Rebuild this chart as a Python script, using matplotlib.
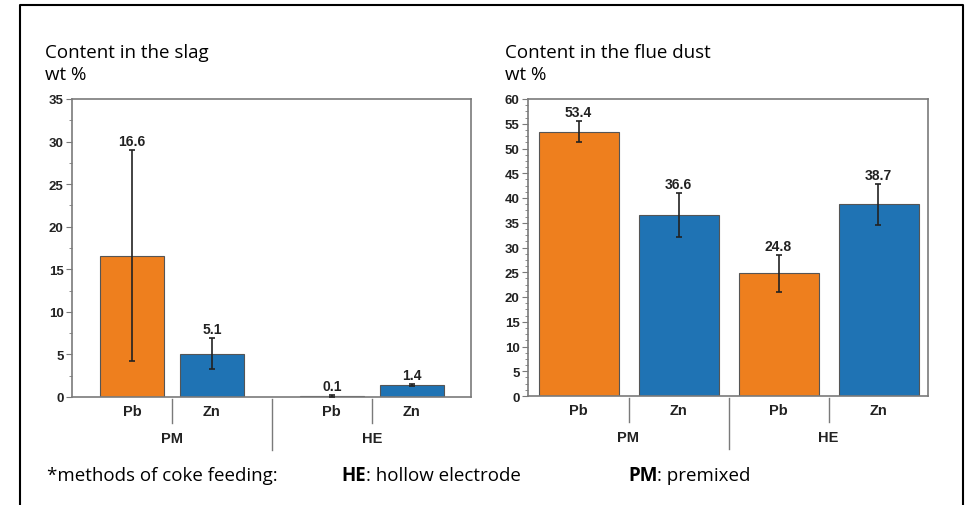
import matplotlib.pyplot as plt
from matplotlib.lines import Line2D
from matplotlib.ticker import MultipleLocator

plt.rcParams['font.family'] = ['Liberation Sans', 'DejaVu Sans']

elements = ['Pb', 'Zn', 'Pb', 'Zn']
methods = ['PM', 'HE']

slag_values = [16.6, 5.1, 0.1, 1.4]
slag_errors = [12.4, 1.8, 0.1, 0.1]

dust_values = [53.4, 36.6, 24.8, 38.7]
dust_errors = [2.1, 4.4, 3.7, 4.2]

orange = '#EE7F1E'
blue = '#1F73B4'
bar_colors = [orange, blue, orange, blue]
axis_grey = '#7a7a7a'

fig = plt.figure(figsize=(9.69, 5.06), dpi=100)


def draw_panel(ax, xpos, values, errors, ymax, major, minor, pairs, group_sep, group_pos):
    ax.bar(xpos, values, width=0.8, color=bar_colors, edgecolor='#555555', linewidth=0.8, zorder=2)
    ax.errorbar(xpos, values, yerr=errors, fmt='none', ecolor='#222222', elinewidth=1.2,
                capsize=2.5, capthick=1.2, zorder=3)
    for x, v, e in zip(xpos, values, errors):
        ax.annotate(f'{v:.1f}', xy=(x, v + e), xytext=(0, 1.5), textcoords='offset points',
                    ha='center', va='bottom', fontsize=10, fontweight='bold', color='#222222')

    ax.set_ylim(0, ymax)
    ax.yaxis.set_major_locator(MultipleLocator(major))
    ax.yaxis.set_minor_locator(MultipleLocator(minor))
    ax.tick_params(axis='y', which='major', direction='out', length=4, width=0.8,
                   color=axis_grey, labelsize=9.5, pad=2)
    ax.tick_params(axis='y', which='minor', direction='out', length=2, width=0.6, color=axis_grey)
    for lab in ax.get_yticklabels():
        lab.set_fontweight('bold')
        lab.set_color('#222222')
    ax.set_xticks([])
    for s in ax.spines.values():
        s.set_color(axis_grey)
        s.set_linewidth(1.2)

    # category labels and separators below the axis
    for x, name in zip(xpos, elements):
        ax.text(x, -0.047, name, transform=ax.get_xaxis_transform(), ha='center', va='center',
                fontsize=10.5, fontweight='bold', color='#222222')
    for x in pairs:
        ax.axvline(x, ymin=-0.088, ymax=-0.006, color=axis_grey, lw=1.0, clip_on=False)
    ax.axvline(group_sep, ymin=-0.178, ymax=-0.006, color=axis_grey, lw=1.0, clip_on=False)
    for x, name in zip(group_pos, methods):
        ax.text(x, -0.138, name, transform=ax.get_xaxis_transform(), ha='center', va='center',
                fontsize=10.5, fontweight='bold', color='#222222')


# left panel: slag
ax1 = fig.add_axes([72 / 969, 1 - 398 / 506, 399 / 969, 298 / 506])
x1 = [0, 1, 2.5, 3.5]
draw_panel(ax1, x1, slag_values, slag_errors, 35, 5, 2.5, [0.5, 3.0], 1.75, [0.5, 3.0])
ax1.set_xlim(-0.75, 4.24)

# right panel: flue dust
ax2 = fig.add_axes([528 / 969, 1 - 397 / 506, 400 / 969, 297 / 506])
x2 = [0, 1, 2, 3]
draw_panel(ax2, x2, dust_values, dust_errors, 60, 5, 1.25, [0.5, 2.5], 1.5, [0.5, 2.5])
ax2.set_xlim(-0.505, 3.495)

title_font = ['Open Sans', 'DejaVu Sans']
fs = 13.5
fig.text(45 / 969, 1 - 53 / 506, 'Content in the slag', family=title_font, fontsize=fs, va='center')
fig.text(45 / 969, 1 - 75 / 506, 'wt %', family=title_font, fontsize=fs, va='center')
fig.text(505 / 969, 1 - 53 / 506, 'Content in the flue dust', family=title_font, fontsize=fs, va='center')
fig.text(505 / 969, 1 - 75 / 506, 'wt %', family=title_font, fontsize=fs, va='center')

# footnote
fig.text(47 / 969, 1 - 476 / 506, '*methods of coke feeding:', family=title_font, fontsize=fs, va='center')
he = fig.text(341 / 969, 1 - 476 / 506, 'HE', family=title_font, fontsize=fs, fontweight='bold', va='center')
fig.add_artist(plt.Annotation(': hollow electrode', xy=(1, 0.5), xycoords=he, va='center',
                              family=title_font, fontsize=fs))
pm = fig.text(628 / 969, 1 - 476 / 506, 'PM', family=title_font, fontsize=fs, fontweight='bold', va='center')
fig.add_artist(plt.Annotation(': premixed', xy=(1, 0.5), xycoords=pm, va='center',
                              family=title_font, fontsize=fs))

# outer frame (open at the bottom)
frame_x = [20 / 969, 20 / 969, 963 / 969, 963 / 969]
frame_y = [0, 1 - 6 / 506, 1 - 6 / 506, 0]
fig.add_artist(Line2D(frame_x, frame_y, transform=fig.transFigure, color='black', lw=1.5))

fig.savefig('out.png', dpi=100, facecolor='white')
